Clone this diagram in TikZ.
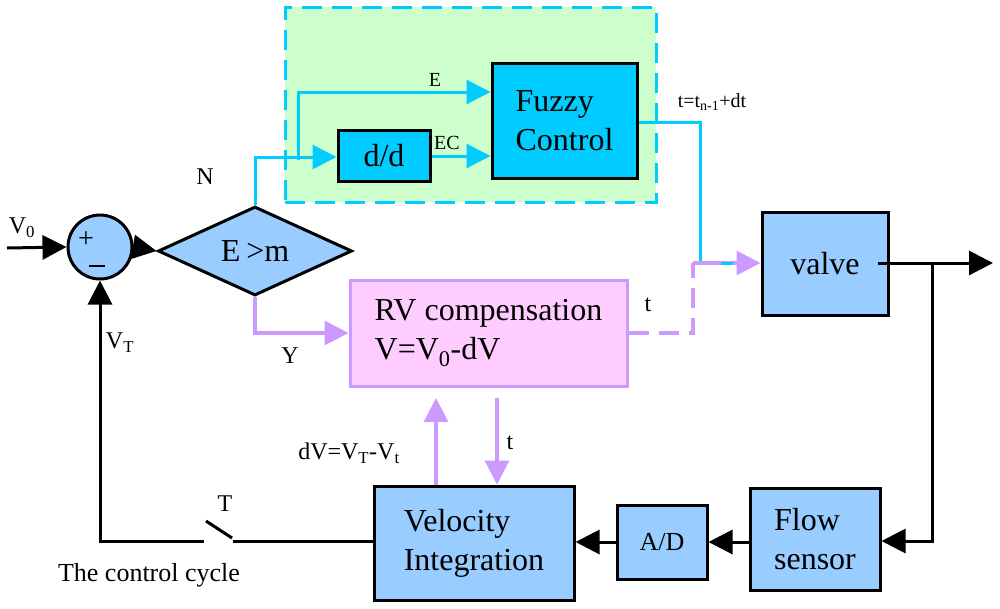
\documentclass[tikz,border=0pt]{standalone}
\usepackage{fontspec}
\setmainfont{Liberation Serif}
\usetikzlibrary{shapes.geometric,arrows.meta}
\definecolor{lblue}{HTML}{99CCFF}
\definecolor{cyn}{HTML}{00CCFF}
\definecolor{lgreen}{HTML}{CCFFCC}
\definecolor{lpink}{HTML}{FFCCFF}
\definecolor{purp}{HTML}{CC99FF}
\tikzset{
  big/.style={font=\fontsize{32}{39}\selectfont},
  small/.style={font=\fontsize{24}{28}\selectfont},
  blk/.style={draw=black, line width=3pt, fill=lblue, align=left, big, inner sep=0pt},
  cbox/.style={draw=black, line width=3pt, fill=cyn, align=left, big, inner sep=0pt},
  tip/.style={-{Triangle[length=24pt,width=24pt]}},
  bline/.style={draw=black, line width=3pt},
  cline/.style={draw=cyn, line width=3pt},
  pline/.style={draw=purp, line width=3.2pt},
  lbl/.style={small, inner sep=0pt},
}
\begin{document}
\begin{tikzpicture}[x=1pt,y=-1pt]
\useasboundingbox (0,0) rectangle (1000,608);
% green zone
\node[draw=cyn, fill=lgreen, line width=3pt, dash pattern=on 20pt off 10pt,
      minimum width=371pt, minimum height=195pt, inner sep=0pt] (zone) at (470.5,104.5) {};
% blocks
\node[circle, draw=black, line width=3pt, fill=lblue, minimum size=64pt, inner sep=0pt] (sum) at (100,247) {};
\node[inner sep=0pt, font=\fontsize{28}{32}\selectfont] (plus) at (86,240) {+};
\node[inner sep=0pt] (minus) at (97,266) {\rule{16pt}{1.4pt}};
\node[diamond, draw=black, line width=3pt, fill=lblue, aspect=2.18, minimum width=194pt, minimum height=89pt, inner sep=0pt, big] (dec) at (255,251) {E \kern-2pt>m};
\node[cbox, minimum width=92pt, minimum height=51pt, align=center] (dd) at (384,156) {d/d};
\node[cbox, minimum width=145pt, minimum height=115pt] (fuzzy) at (564.5,120.5) {Fuzzy\\Control};
\node[blk, minimum width=126pt, minimum height=103pt, align=center] (valve) at (825,263.5) {valve};
\node[draw=purp, fill=lpink, line width=3pt, minimum width=277pt, minimum height=106pt, inner sep=0pt, big, align=left] (rv) at (488.5,333) {RV compensation\\V=V\textsubscript{0}-dV};
\node[blk, minimum width=200pt, minimum height=114pt] (vel) at (474,543) {Velocity\\Integration};
\node[blk, minimum width=90pt, minimum height=74pt, align=center, font=\fontsize{26}{30}\selectfont] (ad) at (662,542) {A/D};
\node[blk, minimum width=130pt, minimum height=102pt] (flow) at (815,539) {Flow\\sensor};
% coordinates
\coordinate (vin) at (7,248);
\coordinate (nturn) at (255,157);
\coordinate (ebr) at (298,160);
\coordinate (etop) at (298,92);
\coordinate (fout) at (700,122);
\coordinate (fdown) at (700,263);
\coordinate (yturn) at (255,333);
\coordinate (dsh1) at (693,333);
\coordinate (dsh2) at (693,263);
\coordinate (cseg1) at (721,263);
\coordinate (cseg2) at (733,263);
\coordinate (vout) at (878,263);
\coordinate (vend) at (993,263);
\coordinate (br) at (932,263);
\coordinate (brd) at (932,541);
\coordinate (swA) at (233,541);
\coordinate (swB) at (232,538);
\coordinate (swC) at (206,521);
\coordinate (swD) at (204,541);
\coordinate (fbc) at (100,541);
\coordinate (upx) at (436,398);
\coordinate (dnx) at (497,398);
% connectors black
\draw[bline, tip] (vin) -- (sum.west);
\draw[bline, tip] (sum.east) -- (dec.west);
\draw[bline, tip] (vout) -- (vend);
\draw[bline, tip] (br) -- (brd) -- (flow.east |- brd);
\draw[bline, tip] (flow.west |- ad) -- (ad.east);
\draw[bline, tip] (ad.west) -- (vel.east |- ad);
\draw[bline] (vel.west |- swA) -- (swA);
\draw[bline] (swB) -- (swC);
\draw[bline, tip] (swD) -- (fbc) -- (sum.south);
% cyan
\draw[cline, tip] (dec.north) -- (nturn) -- (dd.west |- nturn);
\draw[cline, tip] (ebr) -- (etop) -- (fuzzy.west |- etop);
\draw[cline, tip] (dd.east) -- (fuzzy.west |- dd.east);
\draw[cline] (fuzzy.east |- fout) -- (fout) -- (fdown);
% purple
\draw[pline, tip] (dec.south) -- (yturn) -- (rv.west);
\draw[pline, dash pattern=on 20pt off 10pt] (rv.east) -- (dsh1) -- (dsh2);
\draw[pline, tip] (dsh2) -- (valve.west |- dsh2);
\draw[cline] (cseg1) -- (cseg2);
\draw[pline, tip] (upx |- vel.north) -- (upx);
\draw[pline, tip] (dnx) -- (dnx |- vel.north);
% labels
\node[lbl] (lv0) at (22,228) {V\textsubscript{0}};
\node[lbl] (ln) at (205,177) {N};
\node[lbl, font=\fontsize{20}{24}\selectfont] (le) at (435,80) {E};
\node[lbl, font=\fontsize{20}{24}\selectfont] (lec) at (447,143) {EC};
\node[lbl, font=\fontsize{20}{24}\selectfont] (lt1) at (712,102) {t=t\textsubscript{n-1}+dt};
\node[lbl] (lt2) at (648,305) {t};
\node[lbl] (ly) at (290,356) {Y};
\node[lbl] (lvt) at (120,343) {V\textsubscript{T}};
\node[lbl] (ldv) at (349,453) {dV=V\textsubscript{T}-V\textsubscript{t}};
\node[lbl] (lt3) at (510,443) {t};
\node[lbl] (lT) at (225,504) {T};
\node[lbl, font=\fontsize{26}{30}\selectfont] (lcc) at (149,575) {The control cycle};
\end{tikzpicture}
\end{document}
